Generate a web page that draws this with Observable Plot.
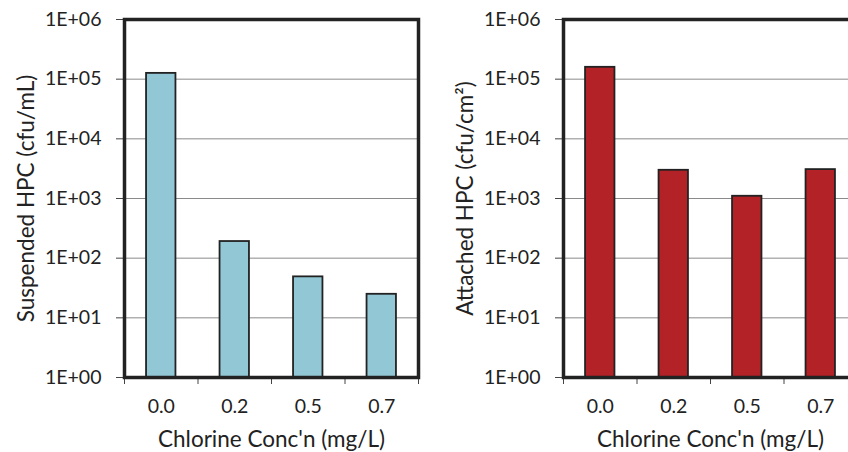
<!DOCTYPE html>
<html>
<head>
<meta charset="utf-8">
<script src="https://cdn.jsdelivr.net/npm/d3@7"></script>
<script src="https://cdn.jsdelivr.net/npm/@observablehq/plot@0.6"></script>
<style>
  html, body { margin: 0; padding: 0; background: white; }
  #wrap { width: 848px; height: 452px; overflow: hidden; display: flex; flex-wrap: nowrap; }
  #wrap > svg, #wrap > figure { flex: none; margin: 0; }
</style>
</head>
<body>
<div id="wrap"></div>
<script>
// ---- data ----
const categories = ["0.0", "0.2", "0.5", "0.7"];
const suspendedHPC = [125000, 190, 48.6, 24.8];
const attachedHPC = [158000, 2970, 1090, 3050];
const yTicks = [1, 10, 100, 1000, 10000, 100000, 1000000];
const xLabel = "Chlorine Conc'n (mg/L)";
const yLabelLeft = "Suspended HPC (cfu/mL)";
const yLabelRight = "Attached HPC (cfu/cm²)";
const colors = { suspended: "#92C8D6", attached: "#B22227" };

const fmt = d => "1E+" + String(Math.round(Math.log10(d))).padStart(2, "0");

function panel(values, fill, yLabel) {
  const data = categories.map((c, i) => ({ cat: c, i, value: values[i] }));
  return Plot.plot({
    width: 439,
    height: 452,
    marginLeft: 124,
    marginRight: 21,
    marginTop: 19,
    marginBottom: 75,
    style: { fontFamily: "Lato, 'Open Sans', sans-serif", fontSize: "18px", color: "#222", background: "white", overflow: "visible" },
    x: { domain: [0, categories.length], label: null },
    y: { type: "log", domain: [1, 1000000], label: null },
    marks: [
      Plot.gridY(yTicks, { stroke: "#8a8a8a", strokeOpacity: 1, strokeWidth: 1 }),
      Plot.rectY(data, {
        x1: d => d.i + 0.3,
        x2: d => d.i + 0.7,
        y1: 1,
        y2: "value",
        fill,
        stroke: "#222",
        strokeWidth: 1.8
      }),
      Plot.axisY(yTicks, {
        tickFormat: fmt,
        tickSize: 8,
        tickPadding: 15,
        fontSize: 19.5,
        stroke: "#444",
        label: null
      }),
      Plot.axisX(d3.range(categories.length + 1), {
        tickFormat: () => "",
        tickSize: 7,
        stroke: "#444",
        label: null
      }),
      Plot.axisX(categories.map((c, i) => i + 0.5), {
        tickFormat: d => categories[Math.floor(d)],
        tickSize: 0,
        tickPadding: 22,
        fontSize: 19.5,
        label: null
      }),
      Plot.frame({ stroke: "#222", strokeWidth: 3.5 }),
      Plot.text([yLabel], {
        frameAnchor: "left",
        textAnchor: "middle",
        lineAnchor: "middle",
        rotate: -90,
        dx: -98,
        fontSize: 22.5,
        fill: "#222",
        text: d => d
      }),
      Plot.text([xLabel], {
        frameAnchor: "bottom",
        textAnchor: "middle",
        lineAnchor: "middle",
        dy: 62,
        fontSize: 22.5,
        fill: "#222",
        text: d => d
      })
    ]
  });
}

const wrap = document.getElementById("wrap");
wrap.appendChild(panel(suspendedHPC, colors.suspended, yLabelLeft));
wrap.appendChild(panel(attachedHPC, colors.attached, yLabelRight));
</script>
</body>
</html>
